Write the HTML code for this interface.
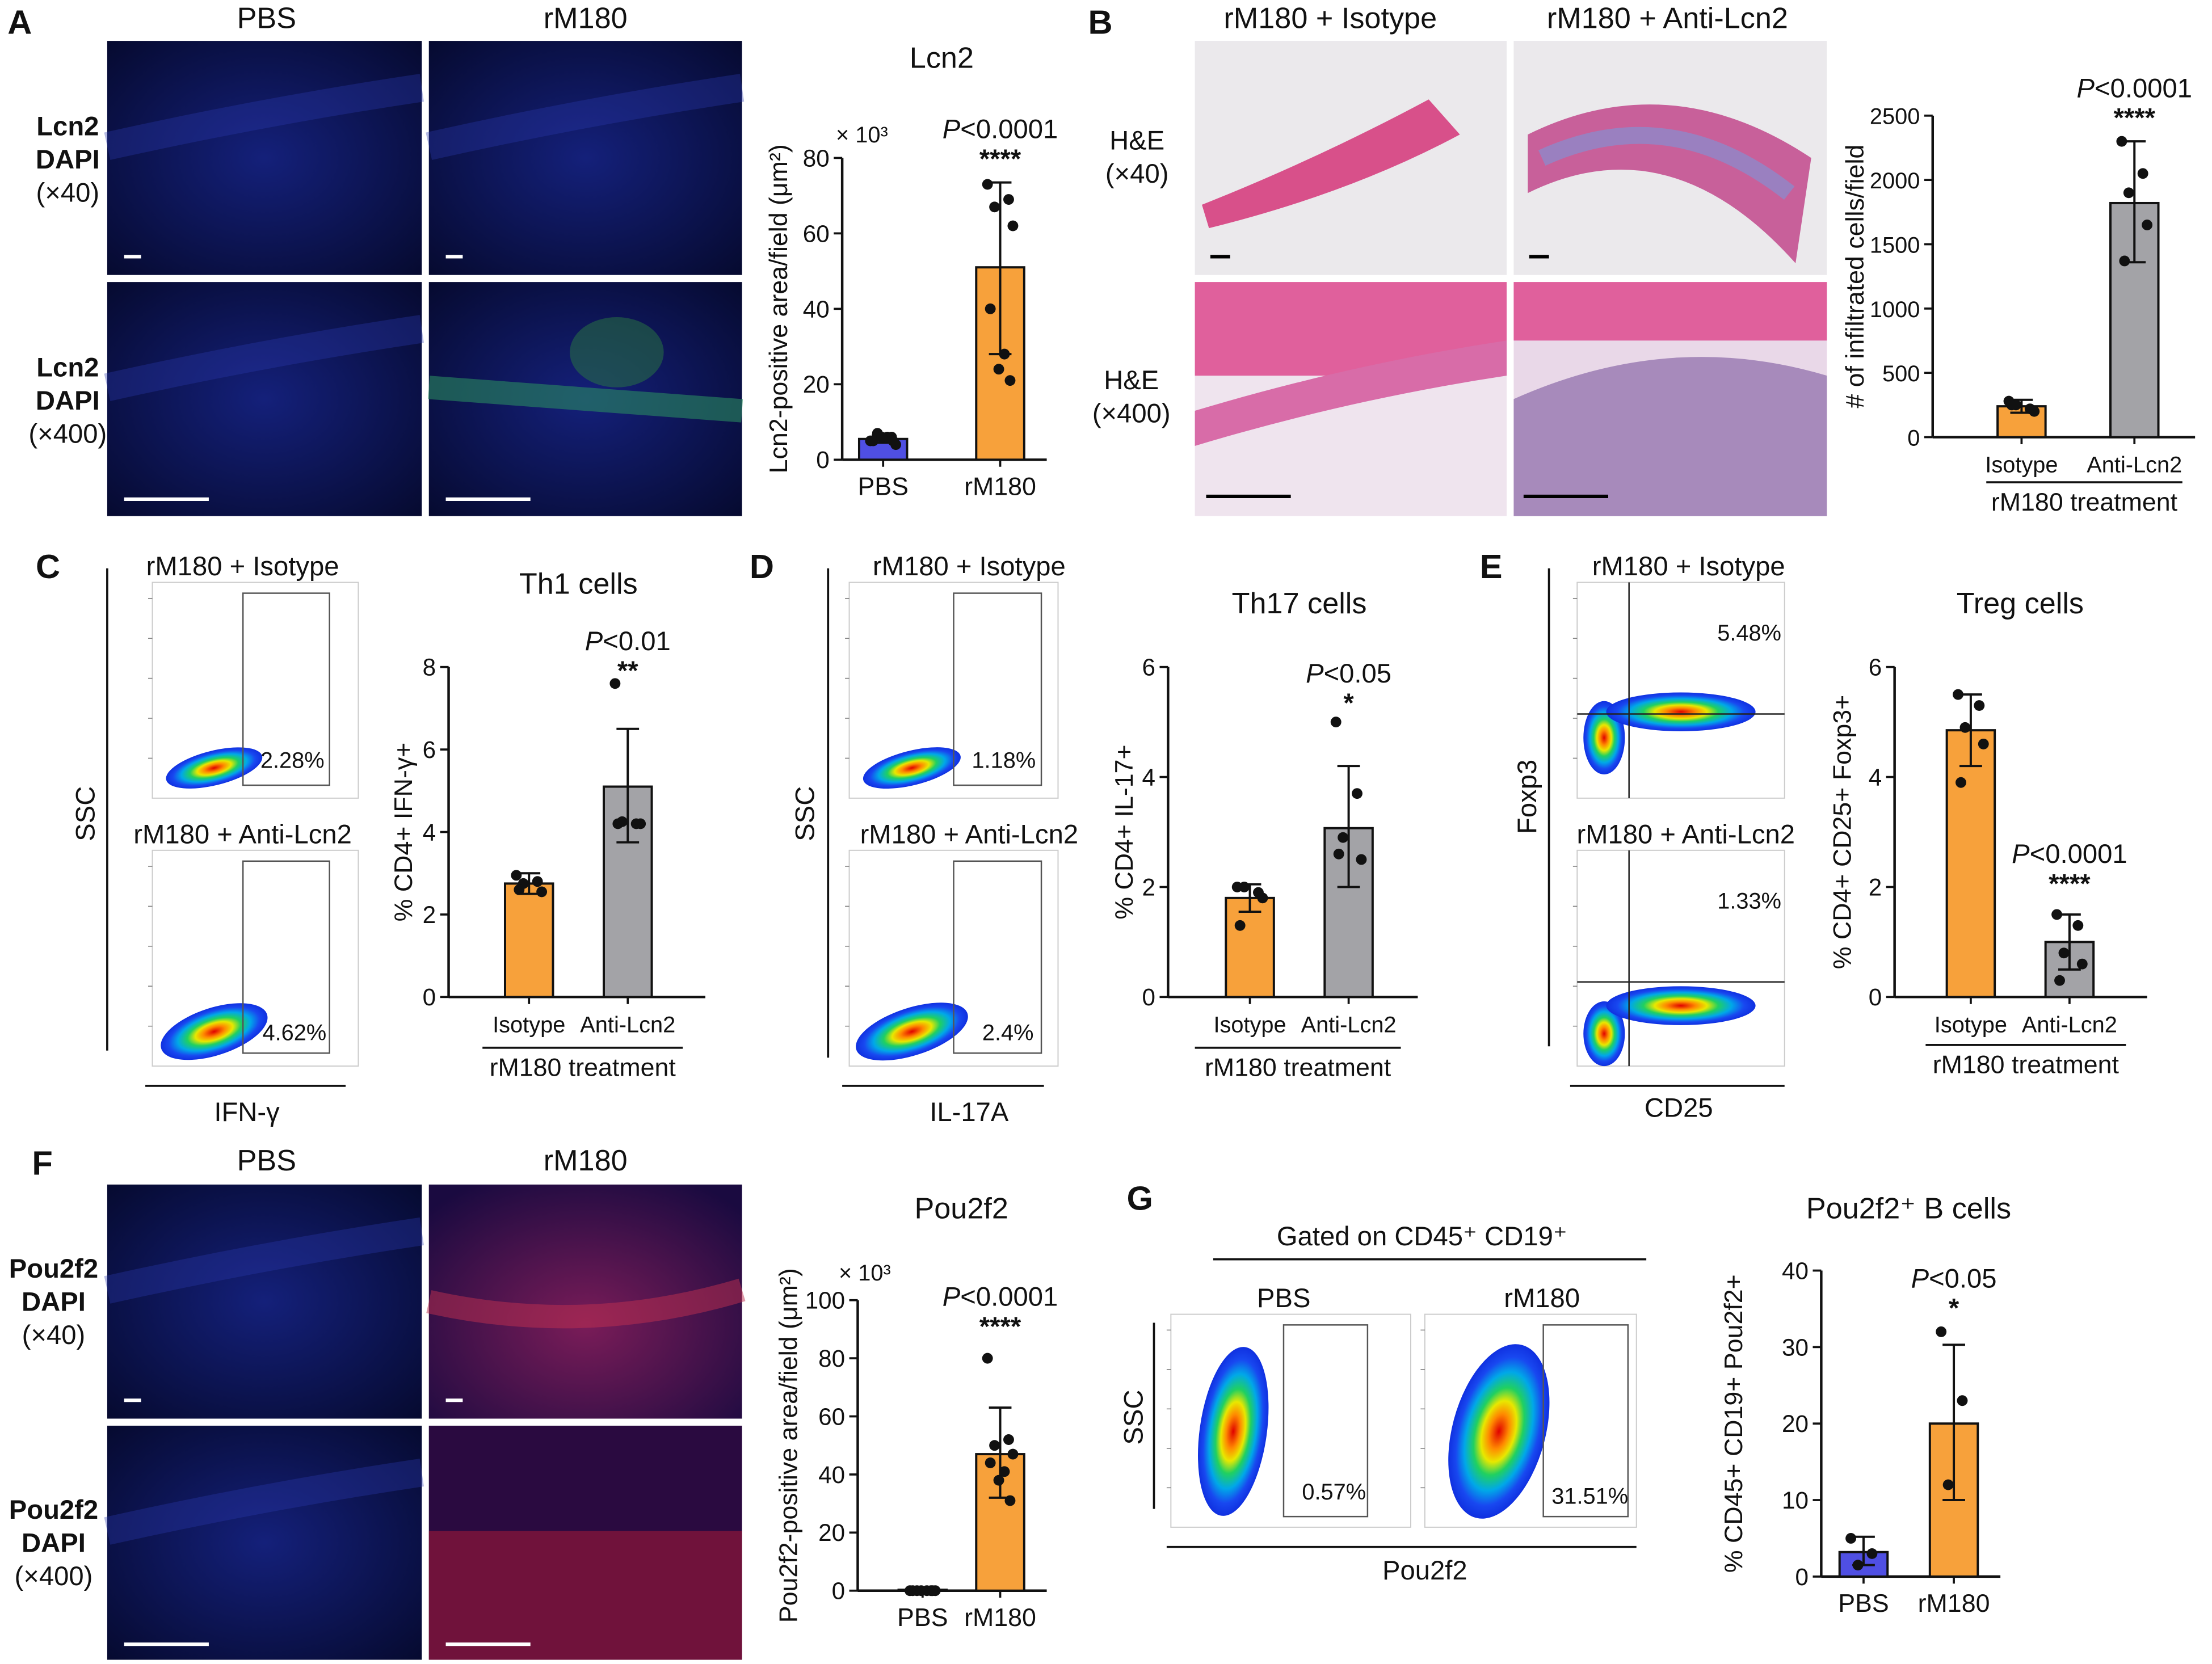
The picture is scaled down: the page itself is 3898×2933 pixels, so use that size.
<!DOCTYPE html>
<html><head><meta charset="utf-8"><style>
html,body{margin:0;padding:0;background:#fff}
svg{display:block}
text{font-family:"Liberation Sans",Arial,sans-serif;fill:#111}
</style></head><body>
<svg id="fig" width="3898" height="2933" viewBox="0 0 1568 1180" preserveAspectRatio="none" xmlns="http://www.w3.org/2000/svg">
<defs>
<radialGradient id="dens" cx="0.5" cy="0.5" r="0.5">
<stop offset="0" stop-color="#e00000"/><stop offset="0.2" stop-color="#ff8a00"/><stop offset="0.35" stop-color="#e8e800"/><stop offset="0.5" stop-color="#20d060"/><stop offset="0.68" stop-color="#00a8e8"/><stop offset="0.85" stop-color="#1848f0"/><stop offset="1" stop-color="#1030e0"/>
</radialGradient>
<radialGradient id="fluoBlue" cx="0.5" cy="0.5" r="0.7"><stop offset="0" stop-color="#14207a"/><stop offset="1" stop-color="#060a30"/></radialGradient>
<radialGradient id="fluoRed" cx="0.5" cy="0.6" r="0.7"><stop offset="0" stop-color="#7a1c58"/><stop offset="1" stop-color="#1a0a40"/></radialGradient>
</defs>
<g id="root"></g>
</svg>
<script>
// ---- chart data ----
const catsA=["PBS","rM180"], meanA=[5.5,51], errLoA=[4.5,28], errHiA=[6.5,73.5];
const ptsA0=[5,6,7,4,5,6,6,5], ptsA1=[73,69,67,62,40,28,24,21];
const ticksA=[0,20,40,60,80];
const catsB=["Isotype","Anti-Lcn2"], meanB=[240,1820], errLoB=[190,1360], errHiB=[290,2300];
const ptsB0=[280,220,250,200,250], ptsB1=[2300,2050,1900,1650,1370];
const ticksB=[0,500,1000,1500,2000,2500];
const catsC=["Isotype","Anti-Lcn2"], meanC=[2.75,5.1], errLoC=[2.5,3.75], errHiC=[3.0,6.5];
const ptsC0=[2.95,2.8,2.75,2.55,2.6], ptsC1=[7.6,4.2,4.25,4.2,4.2];
const ticksC=[0,2,4,6,8];
const catsD=["Isotype","Anti-Lcn2"], meanD=[1.8,3.07], errLoD=[1.55,2.0], errHiD=[2.05,4.2];
const ptsD0=[2.0,1.9,2.0,1.8,1.3], ptsD1=[5.0,3.7,2.9,2.5,2.6];
const ticksD=[0,2,4,6];
const catsE=["Isotype","Anti-Lcn2"], meanE=[4.85,1.0], errLoE=[4.2,0.5], errHiE=[5.5,1.5];
const ptsE0=[5.5,5.3,4.9,4.6,3.9], ptsE1=[1.5,1.3,0.8,0.6,0.3];
const ticksE=[0,2,4,6];
const catsF=["PBS","rM180"], meanF=[0.3,47], errLoF=[0,32], errHiF=[0.6,63];
const ptsF0=[0,0,0,0,0,0,0,0], ptsF1=[80,52,50,47,44,41,38,31];
const ticksF=[0,20,40,60,80,100];
const catsG=["PBS","rM180"], meanG=[3.2,20], errLoG=[1.5,10], errHiG=[5.2,30.3];
const ptsG0=[5,3,1.5], ptsG1=[32,23,12];
const ticksG=[0,10,20,30,40];

const NS="http://www.w3.org/2000/svg";
const root=document.getElementById('root');
function el(tag,attrs,parent){const e=document.createElementNS(NS,tag);for(const k in attrs)e.setAttribute(k,attrs[k]);(parent||root).appendChild(e);return e;}
function txt(x,y,s,size,parent,extra){const t=el('text',Object.assign({x:x,y:y,'font-size':size,'text-anchor':'middle'},extra||{}),parent);t.textContent=s;return t;}

[["A",14,24],["B",780,24],["C",34,410],["D",540,410],["E",1057,410],["F",30,833],["G",808,858]].forEach(p=>{
 const t=txt(p[1],p[2],p[0],24,root,{'font-weight':'bold','text-anchor':'middle'});
 
 
});

function micro(x,y,w,h,kind,name){
 const g=el('g',{});
 
 
 if(kind==='blue'){el('rect',{x:x,y:y,width:w,height:h,fill:'url(#fluoBlue)'},g);
  el('path',{d:`M${x} ${y+h*0.45} Q${x+w*0.5} ${y+h*0.3} ${x+w} ${y+h*0.2}`,stroke:'#2a3ab0',"stroke-width":h*0.12,fill:'none',opacity:0.35},g);}
 else if(kind==='green'){el('rect',{x:x,y:y,width:w,height:h,fill:'url(#fluoBlue)'},g);
  el('path',{d:`M${x} ${y+h*0.45} Q${x+w*0.5} ${y+h*0.5} ${x+w} ${y+h*0.55}`,stroke:'#2a8a60',"stroke-width":h*0.1,fill:'none',opacity:0.6},g);
  el('ellipse',{cx:x+w*0.6,cy:y+h*0.3,rx:w*0.15,ry:h*0.15,fill:'#2a7a40',opacity:0.5},g);}
 else if(kind==='red'){el('rect',{x:x,y:y,width:w,height:h,fill:'url(#fluoRed)'},g);
  el('path',{d:`M${x} ${y+h*0.5} Q${x+w*0.5} ${y+h*0.65} ${x+w} ${y+h*0.45}`,stroke:'#c03050',"stroke-width":h*0.1,fill:'none',opacity:0.5},g);}
 else if(kind==='redhi'){el('rect',{x:x,y:y,width:w,height:h,fill:'#2a0a40'},g);
  el('rect',{x:x,y:y+h*0.45,width:w,height:h*0.55,fill:'#a01838',opacity:0.6},g);}
 else if(kind==='he1'){el('rect',{x:x,y:y,width:w,height:h,fill:'#ebe9ec'},g);
  el('path',{d:`M${x+5} ${y+h*0.7} Q${x+w*0.4} ${y+h*0.5} ${x+w*0.75} ${y+h*0.25} L${x+w*0.85} ${y+h*0.4} Q${x+w*0.5} ${y+h*0.65} ${x+10} ${y+h*0.8}Z`,fill:'#d8508a'},g);}
 else if(kind==='he2'){el('rect',{x:x,y:y,width:w,height:h,fill:'#ebe9ec'},g);
  el('path',{d:`M${x+10} ${y+h*0.4} Q${x+w*0.5} ${y+h*0.1} ${x+w*0.95} ${y+h*0.5} L${x+w*0.9} ${y+h*0.95} Q${x+w*0.5} ${y+h*0.35} ${x+10} ${y+h*0.65}Z`,fill:'#c8609a'},g);
  el('path',{d:`M${x+20} ${y+h*0.5} Q${x+w*0.5} ${y+h*0.25} ${x+w*0.88} ${y+h*0.65}`,stroke:'#9a80c0',"stroke-width":12,fill:'none'},g);}
 else if(kind==='he3'){el('rect',{x:x,y:y,width:w,height:h,fill:'#efe4ee'},g);
  el('rect',{x:x,y:y,width:w,height:h*0.4,fill:'#e0609c'},g);
  el('path',{d:`M${x} ${y+h*0.55} Q${x+w*0.5} ${y+h*0.35} ${x+w} ${y+h*0.25} L${x+w} ${y+h*0.4} Q${x+w*0.5} ${y+h*0.5} ${x} ${y+h*0.7}Z`,fill:'#d86ca8'},g);}
 else if(kind==='he4'){el('rect',{x:x,y:y,width:w,height:h,fill:'#e9d8e8'},g);
  el('rect',{x:x,y:y,width:w,height:h*0.25,fill:'#e0609c'},g);
  el('path',{d:`M${x} ${y+h*0.5} Q${x+w*0.5} ${y+h*0.2} ${x+w} ${y+h*0.4} L${x+w} ${y+h} L${x} ${y+h}Z`,fill:'#8a6aa8',opacity:0.7},g);}
 return g;
}
function scalebar(x,y,len,col){el('line',{x1:x,y1:y,x2:x+len,y2:y,stroke:col||'#fff','stroke-width':2.5});}
micro(76,29,223,166,'blue','micro-a-pbs-40'); scalebar(88,182,12);
micro(304,29,222,166,'blue','micro-a-rm180-40'); scalebar(316,182,12);
micro(76,200,223,166,'blue','micro-a-pbs-400'); scalebar(88,354,60);
micro(304,200,222,166,'green','micro-a-rm180-400'); scalebar(316,354,60);
micro(847,29,221,166,'he1','micro-b-iso-40'); scalebar(858,182,14,'#000');
micro(1073,29,222,166,'he2','micro-b-anti-40'); scalebar(1084,182,14,'#000');
micro(847,200,221,166,'he3','micro-b-iso-400'); scalebar(855,352,60,'#000');
micro(1073,200,222,166,'he4','micro-b-anti-400'); scalebar(1080,352,60,'#000');
micro(76,840,223,166,'blue','micro-f-pbs-40'); scalebar(88,993,12);
micro(304,840,222,166,'red','micro-f-rm180-40'); scalebar(316,993,12);
micro(76,1011,223,166,'blue','micro-f-pbs-400'); scalebar(88,1166,60);
micro(304,1011,222,166,'redhi','micro-f-rm180-400'); scalebar(316,1166,60);

txt(189,20,'PBS',21); txt(415,20,'rM180',21);
txt(189,830,'PBS',21); txt(415,830,'rM180',21);
txt(943,20,'rM180 + Isotype',21); txt(1182,20,'rM180 + Anti-Lcn2',21);
function sideLabel(x,y,lines){lines.forEach((l,i)=>txt(x,y+i*23.5,l[0],19,root,{fill:l[1],'font-weight':l[2]||'normal'}));}
sideLabel(48,96,[['Lcn2','#1aa04a','bold'],['DAPI','#1a60d0','bold'],['(×40)','#111']]);
sideLabel(48,267,[['Lcn2','#1aa04a','bold'],['DAPI','#1a60d0','bold'],['(×400)','#111']]);
sideLabel(38,906,[['Pou2f2','#e01010','bold'],['DAPI','#1a60d0','bold'],['(×40)','#111']]);
sideLabel(38,1077,[['Pou2f2','#e01010','bold'],['DAPI','#1a60d0','bold'],['(×400)','#111']]);
sideLabel(806,106,[['H&E','#111'],['(×40)','#111']]);
sideLabel(802,276,[['H&E','#111'],['(×400)','#111']]);

function flow(x,y,w,h,name,opts){
 const g=el('g',{});
 
 
 el('rect',{x:x,y:y,width:w,height:h,fill:'#fff',stroke:'#ccc','stroke-width':0.8},g);
 for(let i=1;i<=5;i++){el('line',{x1:x,y1:y+h-i*h/5.4,x2:x-3,y2:y+h-i*h/5.4,stroke:'#777','stroke-width':0.6},g);}
 opts.blobs.forEach(b=>el('ellipse',{cx:x+b[0]*w,cy:y+b[1]*h,rx:b[2]*w,ry:b[3]*h,fill:'url(#dens)',transform:`rotate(${b[4]} ${x+b[0]*w} ${y+b[1]*h})`},g));
 if(opts.gate) el('rect',{x:x+opts.gate[0]*w,y:y+opts.gate[1]*h,width:opts.gate[2]*w,height:opts.gate[3]*h,fill:'none',stroke:'#555','stroke-width':1},g);
 if(opts.quad){el('line',{x1:x+opts.quad[0]*w,y1:y,x2:x+opts.quad[0]*w,y2:y+h,stroke:'#222','stroke-width':1},g);el('line',{x1:x,y1:y+opts.quad[1]*h,x2:x+w,y2:y+opts.quad[1]*h,stroke:'#222','stroke-width':1},g);}
 txt(x+opts.lab[0]*w,y+opts.lab[1]*h,opts.lab[2],16,g);
}
const blobLow=[[0.3,0.86,0.24,0.08,-14]];
flow(108,413,146,153,'flow-c-isotype',{blobs:blobLow,gate:[0.44,0.05,0.42,0.89],lab:[0.68,0.86,'2.28%']});
flow(108,603,146,153,'flow-c-anti',{blobs:[[0.3,0.84,0.27,0.11,-18]],gate:[0.44,0.05,0.42,0.89],lab:[0.69,0.88,'4.62%']});
flow(602,413,148,153,'flow-d-isotype',{blobs:blobLow,gate:[0.5,0.05,0.42,0.89],lab:[0.74,0.86,'1.18%']});
flow(602,603,148,153,'flow-d-anti',{blobs:[[0.3,0.84,0.28,0.11,-18]],gate:[0.5,0.05,0.42,0.89],lab:[0.76,0.88,'2.4%']});
flow(1118,413,147,153,'flow-e-isotype',{blobs:[[0.13,0.72,0.1,0.17,0],[0.5,0.6,0.36,0.09,0]],quad:[0.25,0.61],lab:[0.83,0.27,'5.48%']});
flow(1118,603,147,153,'flow-e-anti',{blobs:[[0.13,0.85,0.1,0.15,0],[0.5,0.72,0.36,0.09,0]],quad:[0.25,0.61],lab:[0.83,0.27,'1.33%']});
flow(830,932,170,151,'flow-g-pbs',{blobs:[[0.26,0.55,0.14,0.4,8]],gate:[0.47,0.05,0.35,0.9],lab:[0.68,0.87,'0.57%']});
flow(1010,932,150,151,'flow-g-rm180',{blobs:[[0.35,0.55,0.22,0.42,15]],gate:[0.56,0.05,0.4,0.9],lab:[0.78,0.89,'31.51%']});
txt(172,408,'rM180 + Isotype',19); txt(172,598,'rM180 + Anti-Lcn2',19);
txt(687,408,'rM180 + Isotype',19); txt(687,598,'rM180 + Anti-Lcn2',19);
txt(1197,408,'rM180 + Isotype',19); txt(1195,598,'rM180 + Anti-Lcn2',19);
txt(910,927,'PBS',19); txt(1093,927,'rM180',19);
function line(x1,y1,x2,y2,w){el('line',{x1:x1,y1:y1,x2:x2,y2:y2,stroke:'#111','stroke-width':w||1.5});}
line(76,403,76,745); line(103,770,245,770); txt(175,795,'IFN-γ',19);
txt(0,0,'SSC',19,root,{transform:'translate(67,577) rotate(-90)'});
line(587,403,587,750); line(597,770,740,770); txt(687,795,'IL-17A',19);
txt(0,0,'SSC',19,root,{transform:'translate(577,577) rotate(-90)'});
line(1098,403,1098,742); line(1113,770,1265,770); txt(1190,792,'CD25',19);
txt(0,0,'Foxp3',19,root,{transform:'translate(1089,565) rotate(-90)'});
line(818,938,818,1070); line(827,1097,1160,1097); txt(1010,1120,'Pou2f2',19);
txt(0,0,'SSC',19,root,{transform:'translate(810,1005) rotate(-90)'});
txt(1008,883,'Gated on CD45⁺ CD19⁺',19); line(860,893,1167,893);

const jit=[-9,6,-4,9,-7,3,-1,7];
function barChart(o){
 const g=el('g',{});
 
 
 const ys=v=>o.y0-(v-o.ticks[0])/(o.ticks[o.ticks.length-1]-o.ticks[0])*(o.y0-o.yTop);
 el('line',{x1:o.ax,y1:o.y0,x2:o.ax,y2:o.yTop,stroke:'#111','stroke-width':1.8},g);
 el('line',{x1:o.ax,y1:o.y0,x2:o.xEnd,y2:o.y0,stroke:'#111','stroke-width':1.8},g);
 o.ticks.forEach(t=>{const y=ys(t);el('line',{x1:o.ax-6,y1:y,x2:o.ax,y2:y,stroke:'#111','stroke-width':1.5},g);
  txt(o.ax-9,y+6,String(t),o.tickSize||17,g,{'text-anchor':'end'});});
 o.cats.forEach((c,i)=>{
  const cx=o.cx[i], m=o.mean[i];
  const b=el('rect',{x:cx-17,y:ys(m),width:34,height:o.y0-ys(m),fill:o.colors[i],stroke:'#111','stroke-width':1.6},g);
  
  
  el('line',{x1:cx,y1:ys(o.lo[i]),x2:cx,y2:ys(o.hi[i]),stroke:'#111','stroke-width':1.6},g);
  el('line',{x1:cx-8,y1:ys(o.lo[i]),x2:cx+8,y2:ys(o.lo[i]),stroke:'#111','stroke-width':1.6},g);
  el('line',{x1:cx-8,y1:ys(o.hi[i]),x2:cx+8,y2:ys(o.hi[i]),stroke:'#111','stroke-width':1.6},g);
  el('line',{x1:cx,y1:o.y0,x2:cx,y2:o.y0+5,stroke:'#111','stroke-width':1.5},g);
  o.pts[i].forEach((p,j)=>el('circle',{cx:cx+jit[j%8],cy:ys(p),r:3.8,fill:'#111'},g));
  txt(cx,o.y0+25,c,o.catSize||16,g);
 });
 if(o.title) txt((o.cx[0]+o.cx[1])/2,o.titleY,o.title,21,g);
 const pt=el('text',{x:o.cx[1],y:o.pY,'font-size':19,'text-anchor':'middle'},g);
 const i1=el('tspan',{'font-style':'italic'},pt); i1.textContent='P';
 const i2=el('tspan',{},pt); i2.textContent=o.p;
 txt(o.cx[1],o.pY+21,o.stars,19,g,{'font-weight':'bold'});
 txt(0,0,o.ylab,18,g,{transform:`translate(${o.ylx},${(o.y0+o.yTop)/2}) rotate(-90)`});
 if(o.treat){el('line',{x1:o.treat[0],y1:o.treat[2],x2:o.treat[1],y2:o.treat[2],stroke:'#111','stroke-width':1.5},g);
  txt((o.treat[0]+o.treat[1])/2,o.treat[2]+20,'rM180 treatment',18,g);}
 if(o.e3) txt(o.e3[0],o.e3[1],'× 10³',16,g);
}
const BLUE='#4f4fe3',ORANGE='#f7a13b',GRAY='#a3a3a7';
barChart({name:'chart-a-lcn2',cats:catsA,mean:meanA,lo:errLoA,hi:errHiA,pts:[ptsA0,ptsA1],ticks:ticksA,ax:597,xEnd:742,y0:326,yTop:112,cx:[626,709],colors:[BLUE,ORANGE],title:'Lcn2',titleY:48,p:'<0.0001',pY:98,stars:'****',ylab:'Lcn2-positive area/field (μm²)',ylx:558,e3:[611,101],catSize:18});
barChart({name:'chart-b-infiltrated',cats:catsB,mean:meanB,lo:errLoB,hi:errHiB,pts:[ptsB0,ptsB1],ticks:ticksB,ax:1370,xEnd:1556,y0:310,yTop:82,cx:[1433,1513],colors:[ORANGE,GRAY],title:'',titleY:0,p:'<0.0001',pY:69,stars:'****',ylab:'# of infiltrated cells/field',ylx:1321,tickSize:16,treat:[1408,1547,342]});
barChart({name:'chart-c-th1',cats:catsC,mean:meanC,lo:errLoC,hi:errHiC,pts:[ptsC0,ptsC1],ticks:ticksC,ax:318,xEnd:500,y0:707,yTop:473,cx:[375,445],colors:[ORANGE,GRAY],title:'Th1 cells',titleY:421,p:'<0.01',pY:461,stars:'**',ylab:'% CD4+ IFN-γ+',ylx:292,treat:[342,484,743]});
barChart({name:'chart-d-th17',cats:catsD,mean:meanD,lo:errLoD,hi:errHiD,pts:[ptsD0,ptsD1],ticks:ticksD,ax:828,xEnd:1005,y0:707,yTop:473,cx:[886,956],colors:[ORANGE,GRAY],title:'Th17 cells',titleY:435,p:'<0.05',pY:484,stars:'*',ylab:'% CD4+ IL-17+',ylx:803,treat:[847,993,743]});
barChart({name:'chart-e-treg',cats:catsE,mean:meanE,lo:errLoE,hi:errHiE,pts:[ptsE0,ptsE1],ticks:ticksE,ax:1343,xEnd:1522,y0:707,yTop:473,cx:[1397,1467],colors:[ORANGE,GRAY],title:'Treg cells',titleY:435,p:'<0.0001',pY:612,stars:'****',ylab:'% CD4+ CD25+ Foxp3+',ylx:1312,treat:[1365,1507,741]});
barChart({name:'chart-f-pou2f2',cats:catsF,mean:meanF,lo:errLoF,hi:errHiF,pts:[ptsF0,ptsF1],ticks:ticksF,ax:608,xEnd:742,y0:1128,yTop:922,cx:[654,709],colors:[BLUE,ORANGE],title:'Pou2f2',titleY:864,p:'<0.0001',pY:926,stars:'****',ylab:'Pou2f2-positive area/field (μm²)',ylx:565,e3:[613,908],catSize:18});
barChart({name:'chart-g-bcells',cats:catsG,mean:meanG,lo:errLoG,hi:errHiG,pts:[ptsG0,ptsG1],ticks:ticksG,ax:1291,xEnd:1418,y0:1118,yTop:901,cx:[1321,1385],colors:[BLUE,ORANGE],title:'Pou2f2⁺ B cells',titleY:864,p:'<0.05',pY:913,stars:'*',ylab:'% CD45+ CD19+ Pou2f2+',ylx:1235,catSize:18});
</script>
</body></html>
